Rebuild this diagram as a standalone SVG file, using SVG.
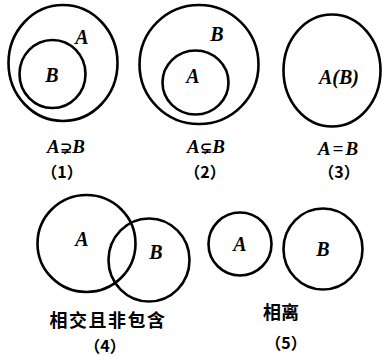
<svg xmlns="http://www.w3.org/2000/svg" width="391" height="356" viewBox="0 0 391 356">
<style>
.c{fill:none;stroke:#000;stroke-width:2.6}
.l{font-family:"Liberation Serif","DejaVu Serif",serif;font-style:italic;font-weight:bold;font-size:20px;text-anchor:middle;fill:#000}
.r{font-family:"Liberation Serif","DejaVu Serif",serif;font-style:italic;font-weight:bold;font-size:19px;text-anchor:middle;fill:#000}
.s{font-style:normal;font-family:"DejaVu Sans",sans-serif;font-size:15px}
.n{font-family:"Noto Sans CJK SC","Noto Sans CJK JP",sans-serif;font-weight:bold;font-size:16px;text-anchor:middle;fill:#000}
.z{font-family:"Noto Sans CJK SC","Noto Sans CJK JP",sans-serif;font-weight:bold;font-size:18px;text-anchor:middle;fill:#000}
</style>
<rect width="391" height="356" fill="#fff"/>
<g id="d1">
<ellipse class="c" cx="63" cy="63" rx="54.5" ry="58"/>
<ellipse class="c" cx="52.5" cy="74" rx="33" ry="34"/>
<text class="l" x="82" y="44">A</text>
<text class="l" x="52" y="82">B</text>
<text class="r" x="66" y="153">A<tspan class="s">⊋</tspan>B</text>
<text class="n" x="62" y="178">（1）</text>
</g>
<g id="d2">
<ellipse class="c" cx="199" cy="64.5" rx="59.5" ry="59.5"/>
<ellipse class="c" cx="195.5" cy="82.5" rx="33" ry="32"/>
<text class="l" x="217" y="41">B</text>
<text class="l" x="193" y="83">A</text>
<text class="r" x="206" y="153">A<tspan class="s">⊊</tspan>B</text>
<text class="n" x="205" y="178">（2）</text>
</g>
<g id="d3">
<ellipse class="c" cx="332" cy="70.5" rx="48.5" ry="56"/>
<text class="l" x="339" y="84" font-size="21">A(B)</text>
<text class="r" x="339" y="155" letter-spacing="2">A=B</text>
<text class="n" x="339" y="178">（3）</text>
</g>
<g id="d4">
<ellipse class="c" cx="86.5" cy="243.5" rx="49" ry="48.5"/>
<ellipse class="c" cx="149" cy="260" rx="40.5" ry="41.5"/>
<text class="l" x="82" y="246">A</text>
<text class="l" x="156" y="259">B</text>
<text class="z" x="108" y="327" letter-spacing="1.5">相交且非包含</text>
<text class="n" x="105" y="352">（4）</text>
</g>
<g id="d5">
<ellipse class="c" cx="240" cy="244" rx="31.5" ry="31.5"/>
<ellipse class="c" cx="323" cy="249" rx="39.5" ry="40.5"/>
<text class="l" x="240" y="251">A</text>
<text class="l" x="323" y="256">B</text>
<text class="z" x="281" y="319">相离</text>
<text class="n" x="286" y="349">（5）</text>
</g>
<g id="connectors"/>
</svg>
